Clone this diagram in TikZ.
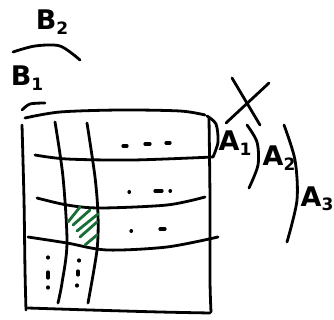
\documentclass[tikz,border=0pt]{standalone}
\usepackage{fontspec}
\setsansfont{DejaVu Sans}
\definecolor{hatchgreen}{RGB}{25,110,55}
\newcommand{\lsub}[1]{\raisebox{-0.3ex}{\fontsize{17}{17}\selectfont #1}}
\begin{document}
\begin{tikzpicture}[x=1pt,y=-1pt,
  ink/.style={line width=2.8pt,line cap=round,line join=round},
  hatch/.style={ink,hatchgreen,line width=2.8pt},
  dot/.style={ink,line width=3.2pt},
  lbl/.style={inner sep=0pt,font=\sffamily\bfseries\fontsize{27}{27}\selectfont}
]
\useasboundingbox (0,0) rectangle (334,320);
% labels
\node[lbl] (b2) at (52,22) {B\lsub{2}};
\node[lbl] (b1) at (27,78) {B\lsub{1}};
\node[lbl] (a1) at (235,143) {A\lsub{1}};
\node[lbl] (a2) at (279,158) {A\lsub{2}};
\node[lbl] (a3) at (317,199) {A\lsub{3}};
% braces
\draw[ink] plot[smooth] coordinates {(13,52) (35,46) (60,46) (80,60)};
\draw[ink] plot[smooth] coordinates {(22,110) (30,104) (45,103)};
\draw[ink] plot[smooth] coordinates {(207,116) (216,124) (218,142) (213,157)};
\draw[ink] plot[smooth] coordinates {(247,125) (257,142) (258,165) (249,188)};
\draw[ink] plot[smooth] coordinates {(284,125) (295,160) (297,200) (287,242)};
% cross
\draw[ink] (232,78) -- (260,125);
\draw[ink] (269,83) -- (226,123);
% outer frame
\draw[ink] plot[smooth] coordinates {(25,118) (60,112) (120,110) (180,111) (205,115)};
\draw[ink] plot[smooth] coordinates {(22,125) (24,200) (25,270) (26,310)};
\draw[ink] plot[smooth] coordinates {(209,118) (210,200) (210,280) (211,312)};
\draw[ink] plot[smooth] coordinates {(28,308) (90,310) (160,312) (210,313)};
% columns
\draw[ink] plot[smooth] coordinates {(55,122) (63,177) (67,243) (62,283) (58,303)};
\draw[ink] plot[smooth] coordinates {(87,123) (95,177) (98,215) (97,250) (88,303)};
% rows
\draw[ink] plot[smooth] coordinates {(35,155) (67,159) (133,160) (213,157)};
\draw[ink] plot[smooth] coordinates {(37,198) (67,205) (100,208) (167,205) (205,197)};
\draw[ink] plot[smooth] coordinates {(28,237) (67,243) (107,250) (167,247) (218,237)};
% ellipsis
\draw[dot] (123,146) -- (127,146) (145,144) -- (150,144) (166,143) -- (170,143);
\draw[dot] (129,192) -- (129.5,192) (155,191) -- (162,191) (170,191) -- (170.5,191);
\draw[dot] (131,231) -- (131.5,231) (160,229) -- (165,229);
\draw[dot] (48,257) -- (48,258) (48,272) -- (48,278) (48,287) -- (48,288);
\draw[dot] (79,260) -- (79,261) (78,271) -- (78,275) (77,285) -- (77,286);
% hatched cell
\draw[hatch] (68,222) -- (80,207);
\draw[hatch] (73,225) -- (90,210);
\draw[hatch] (77,231) -- (98,214);
\draw[hatch] (80,237) -- (97,222);
\draw[hatch] (85,245) -- (97,235);
\end{tikzpicture}
\end{document}
